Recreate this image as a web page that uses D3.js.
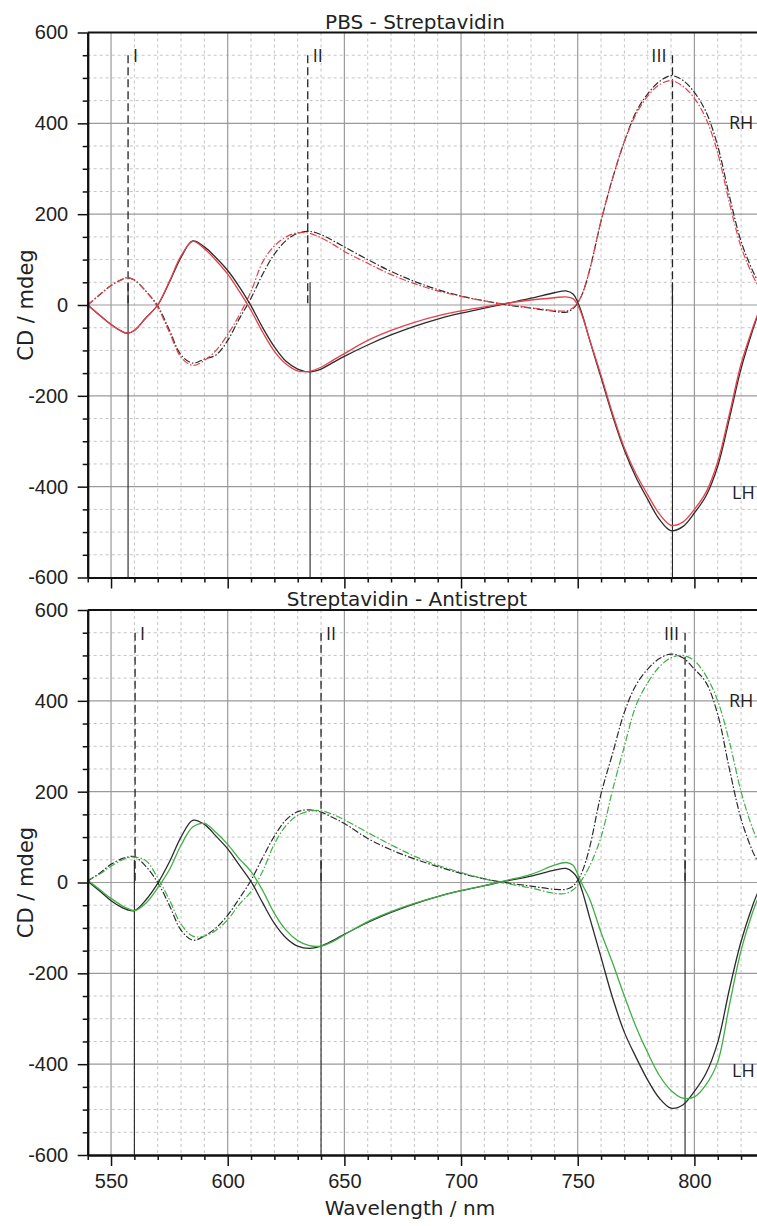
<!DOCTYPE html>
<html>
<head>
<meta charset="utf-8">
<script src="https://cdn.jsdelivr.net/npm/d3@7"></script>
<style>
  html, body { margin: 0; padding: 0; background: #fff; }
  svg { display: block; }
</style>
</head>
<body>
<svg id="chart" width="757" height="1226"></svg>
<script>
// Wavelength grid (nm) shared by every spectrum
const wavelength = [
  540, 545, 550, 555, 557, 560,
  565, 570, 575, 580, 585,
  590, 595, 600, 605, 610,
  615, 620, 625, 630, 635,
  640, 645, 650, 660, 670,
  680, 690, 700, 710, 720,
  730, 740, 745, 748, 750,
  752, 755, 760, 765, 770,
  775, 780, 785, 790, 795,
  800, 805, 810, 815, 820,
  825, 827
];

// Panel 1: PBS (black) vs Streptavidin (red), CD in mdeg
const pbsLH = [
  0, -22, -43, -59, -62, -56,
  -28, 0, 50, 105, 141,
  128, 104, 76, 40, -2,
  -50, -92, -124, -141, -147,
  -141, -127, -113, -88, -66,
  -47, -31, -18, -7, 4,
  15, 27, 31, 24, 6,
  -22, -75, -160, -245, -320,
  -380, -428, -472, -497, -488,
  -458, -420, -355, -250, -140,
  -55, -25
];
const streptLH = [
  0, -22, -43, -59, -62, -56,
  -28, 0, 52, 108, 140,
  124, 98, 68, 30, -12,
  -60, -102, -130, -145, -146,
  -137, -122, -107, -78, -56,
  -38, -24, -13, -4, 4,
  11, 16, 18, 14, 0,
  -25, -75, -155, -240, -315,
  -372, -418, -460, -485, -478,
  -450, -412, -345, -240, -130,
  -50, -22
];
const pbsRH = [
  0, 22, 43, 57, 60, 55,
  30, -2, -55, -110, -128,
  -119, -110, -78, -30, 15,
  68, 112, 142, 158, 162,
  155, 142, 128, 100, 74,
  52, 34, 20, 9, 0,
  -7, -14, -16, -8, 5,
  25, 75, 185, 280, 360,
  425, 465, 492, 505, 495,
  468, 425, 350, 240, 140,
  75, 55
];
const streptRH = [
  0, 22, 43, 57, 60, 55,
  30, -5, -60, -115, -133,
  -122, -100, -65, -22, 30,
  95, 130, 150, 159, 158,
  148, 134, 118, 92, 67,
  47, 31, 19, 9, 1,
  -6, -12, -13, -6, 5,
  25, 75, 185, 280, 360,
  420, 460, 485, 494, 482,
  455, 410, 335, 225, 128,
  65, 45
];

// Panel 2: Streptavidin (black) vs Antistrept (green), CD in mdeg
const saLH = [
  3, -18, -40, -56, -60, -62,
  -38, -2, 45, 100, 137,
  128, 102, 74, 38, 2,
  -45, -90, -122, -140, -145,
  -140, -128, -114, -88, -66,
  -47, -31, -18, -7, 4,
  14, 27, 31, 22, 8,
  -20, -75, -165, -255, -330,
  -385, -435, -475, -497, -490,
  -460, -420, -352, -235, -130,
  -50, -24
];
const antiLH = [
  5, -15, -35, -52, -57, -62,
  -45, -12, 28, 82, 122,
  130, 110, 84, 52, 24,
  -18, -68, -105, -128, -139,
  -140, -130, -115, -86, -64,
  -46, -31, -18, -7, 5,
  18, 38, 44, 38, 18,
  -5, -35, -110, -178, -250,
  -318, -375, -425, -458, -475,
  -472, -445, -395, -270, -150,
  -65, -38
];
const saRH = [
  3, 20, 40, 53, 56, 57,
  35, 0, -50, -105, -127,
  -118, -100, -72, -35, 5,
  55, 102, 138, 156, 160,
  155, 143, 130, 97, 72,
  52, 35, 20, 8, -1,
  -8, -15, -15, -8, 5,
  25, 75, 195, 285, 375,
  435, 470, 493, 503, 495,
  470, 440, 370, 250, 140,
  68, 48
];
const antiRH = [
  5, 18, 36, 50, 54, 56,
  48, 10, -38, -92, -118,
  -118, -105, -82, -48, -20,
  25, 85, 125, 148, 157,
  158, 150, 138, 110, 83,
  58, 38, 22, 8, -3,
  -12, -24, -24, -16, -6,
  8, 35, 100, 205, 300,
  390, 440, 475, 495, 500,
  488, 455, 400, 310, 200,
  118, 95
];

// Band positions (nm) marked in each panel: RH maxima (dashed), LH minima (solid)
const pbsBandsRH = [557.3, 634.3, 790.6];
const pbsBandsLH = [557.3, 635.3, 790.6];
const saBandsRH = [560.3, 640, 796];
const saBandsLH = [560, 640, 796];
const bandNames = ["I", "II", "III"];

const yTicksMajor = [-600, -400, -200, 0, 200, 400, 600];
const xTicksMajor = [550, 600, 650, 700, 750, 800];
const panelTitles = ["PBS - Streptavidin", "Streptavidin - Antistrept"];

const svg = d3.select("#chart");
const W = 757;
const x = d3.scaleLinear().domain([540, 830]).range([87.7, 764.4]);

const sansFont = "'DejaVu Sans', sans-serif";
const labelFont = "'Open Sans', 'Noto Sans', sans-serif";

function drawPanel(opts) {
  const y = d3.scaleLinear().domain([-600, 600]).range([opts.bottom, opts.top]);
  const g = svg.append("g");

  // minor grid
  const minorX = d3.range(540, 831, 10).filter(v => v % 50 !== 0);
  const minorY = d3.range(-550, 600, 50).filter(v => v % 200 !== 0);
  g.append("g").selectAll("line").data(minorX).join("line")
    .attr("x1", d => x(d)).attr("x2", d => x(d))
    .attr("y1", y(600)).attr("y2", y(-600))
    .attr("stroke", "#c4c4c4").attr("stroke-width", 1).attr("stroke-dasharray", "3,3");
  g.append("g").selectAll("line").data(minorY).join("line")
    .attr("x1", x(540)).attr("x2", W)
    .attr("y1", d => y(d)).attr("y2", d => y(d))
    .attr("stroke", "#c4c4c4").attr("stroke-width", 1).attr("stroke-dasharray", "3,3");

  // major grid
  g.append("g").selectAll("line").data(xTicksMajor).join("line")
    .attr("x1", d => x(d)).attr("x2", d => x(d))
    .attr("y1", y(600)).attr("y2", y(-600))
    .attr("stroke", "#9a9a9a").attr("stroke-width", 1.2);
  g.append("g").selectAll("line").data(yTicksMajor.filter(v => Math.abs(v) < 600)).join("line")
    .attr("x1", x(540)).attr("x2", W)
    .attr("y1", d => y(d)).attr("y2", d => y(d))
    .attr("stroke", "#9a9a9a").attr("stroke-width", 1.2);

  // band markers
  g.append("g").selectAll("line").data(opts.bandsRH).join("line")
    .attr("x1", d => x(d)).attr("x2", d => x(d))
    .attr("y1", y(550)).attr("y2", y(0))
    .attr("stroke", "#222").attr("stroke-width", 1.3).attr("stroke-dasharray", "8,4");
  g.append("g").selectAll("line").data(opts.bandsLH).join("line")
    .attr("x1", d => x(d)).attr("x2", d => x(d))
    .attr("y1", y(50)).attr("y2", y(-600))
    .attr("stroke", "#222").attr("stroke-width", 1.1);

  // spectra
  const line = d3.line()
    .x((d, i) => x(wavelength[i]))
    .y(d => y(d))
    .curve(d3.curveCatmullRom.alpha(0.5));
  const cg = g.append("g").attr("fill", "none");
  opts.series.forEach(s => {
    cg.append("path")
      .attr("d", line(s.values))
      .attr("stroke", s.color)
      .attr("stroke-width", s.width)
      .attr("stroke-dasharray", s.dash || null);
  });

  // axes
  const plain = d => String(d);
  const yAxis = d3.axisLeft(y).tickValues(yTicksMajor).tickSize(10).tickSizeOuter(0).tickPadding(9.5)
    .tickFormat(plain);
  const yMinor = d3.axisLeft(y).tickValues(d3.range(-550, 600, 50).filter(v => v % 200 !== 0))
    .tickSize(5).tickSizeOuter(0).tickFormat("");
  const xAxis = d3.axisBottom(x).tickValues(xTicksMajor).tickSize(11).tickSizeOuter(0).tickPadding(8)
    .tickFormat(opts.xLabels ? plain : "");
  const xMinor = d3.axisBottom(x).tickValues(d3.range(540, 831, 10).filter(v => v % 50 !== 0))
    .tickSize(5).tickSizeOuter(0).tickFormat("");

  const ax = g.append("g").attr("font-family", sansFont);
  ax.append("g").attr("transform", `translate(${x(540)},0)`).call(yAxis);
  ax.append("g").attr("transform", `translate(${x(540)},0)`).call(yMinor);
  ax.append("g").attr("transform", `translate(0,${y(-600)})`).call(xAxis);
  ax.append("g").attr("transform", `translate(0,${y(-600)})`).call(xMinor);
  ax.selectAll(".domain").attr("stroke", "#111").attr("stroke-width", 2);
  ax.selectAll(".tick line").attr("stroke", "#111").attr("stroke-width", 1.5);
  ax.selectAll(".tick text").attr("font-size", 20).attr("fill", "#222");

  // top frame
  g.append("line")
    .attr("x1", x(540)).attr("x2", W)
    .attr("y1", y(600)).attr("y2", y(600))
    .attr("stroke", "#111").attr("stroke-width", 2);

  // panel title
  g.append("text")
    .attr("x", opts.titleX).attr("y", opts.top - 4)
    .attr("text-anchor", "middle")
    .attr("font-family", sansFont).attr("font-size", 20).attr("fill", "#222")
    .text(opts.title);

  // y-axis title
  g.append("text")
    .attr("transform", `translate(33,${y(0)}) rotate(-90)`)
    .attr("text-anchor", "middle")
    .attr("font-family", sansFont).attr("font-size", 21).attr("fill", "#222")
    .text("CD / mdeg");

  // band names
  const lab = g.append("g").attr("font-family", labelFont).attr("font-size", 18).attr("fill", "#222");
  bandNames.forEach((n, i) => {
    const bx = x(opts.bandsRH[i]);
    const last = i === bandNames.length - 1;
    lab.append("text")
      .attr("x", last ? bx - 6 : bx + 5)
      .attr("y", y(550) + 7)
      .attr("text-anchor", last ? "end" : "start")
      .text(n);
  });
  lab.append("text").attr("x", 729).attr("y", y(400) + 6).text("RH");
  lab.append("text").attr("x", 732).attr("y", y(-415) + 6).text("LH");

  return y;
}

drawPanel({
  top: 32.5, bottom: 577.5, title: panelTitles[0], titleX: 415, xLabels: false,
  bandsRH: pbsBandsRH, bandsLH: pbsBandsLH,
  series: [
    { values: pbsRH, color: "#2b2b2b", width: 1.2, dash: "7,2,1.5,2" },
    { values: streptRH, color: "#e8404a", width: 1.2, dash: "7,2,1.5,2" },
    { values: pbsLH, color: "#2b2b2b", width: 1.3 },
    { values: streptLH, color: "#e8404a", width: 1.3 }
  ]
});

drawPanel({
  top: 610, bottom: 1155, title: panelTitles[1], titleX: 407, xLabels: true,
  bandsRH: saBandsRH, bandsLH: saBandsLH,
  series: [
    { values: saRH, color: "#2b2b2b", width: 1.2, dash: "7,2,1.5,2" },
    { values: antiRH, color: "#3fae45", width: 1.2, dash: "7,2,1.5,2" },
    { values: saLH, color: "#2b2b2b", width: 1.3 },
    { values: antiLH, color: "#3fae45", width: 1.3 }
  ]
});

// x-axis title
svg.append("text")
  .attr("x", 410).attr("y", 1215)
  .attr("text-anchor", "middle")
  .attr("font-family", sansFont).attr("font-size", 20).attr("fill", "#222")
  .text("Wavelength / nm");
</script>
</body>
</html>
